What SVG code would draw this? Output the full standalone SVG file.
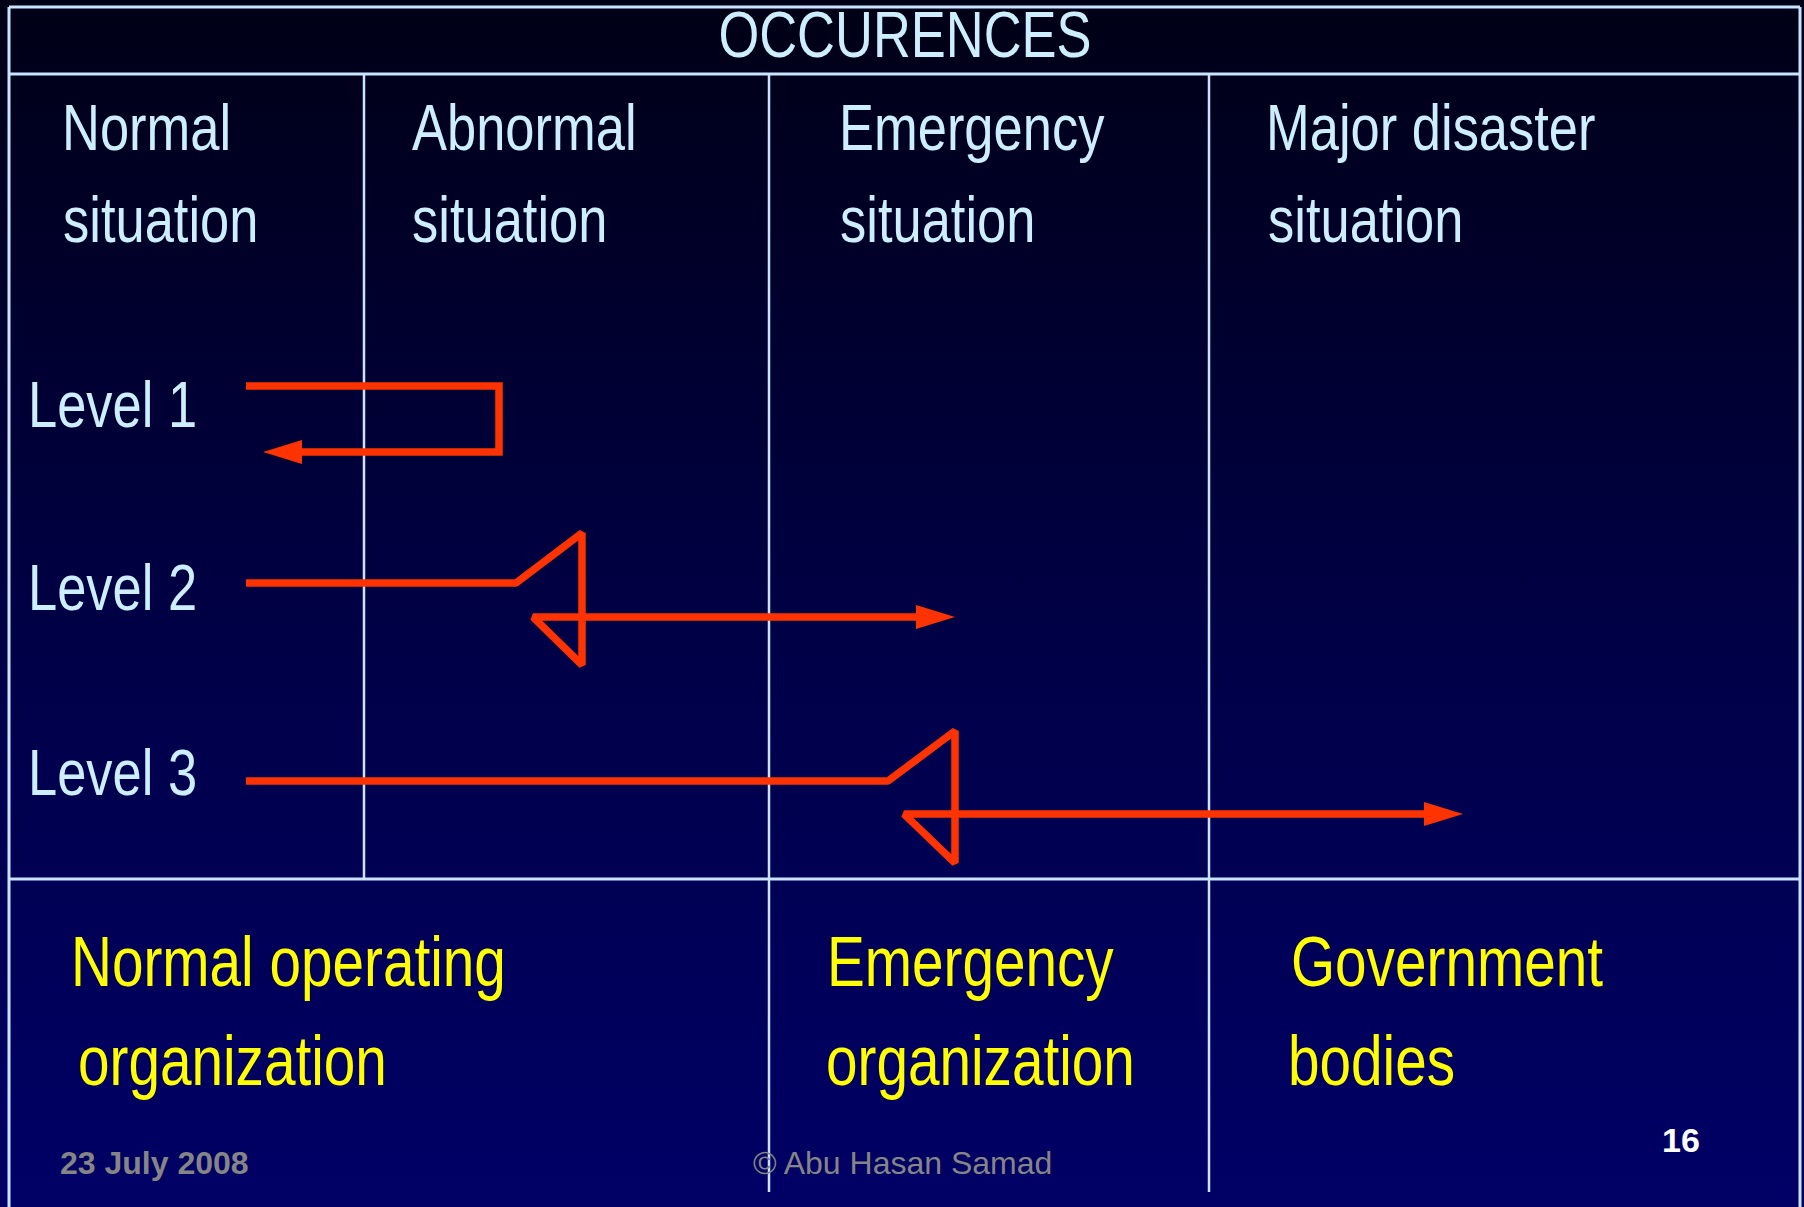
<svg xmlns="http://www.w3.org/2000/svg" width="1804" height="1207" viewBox="0 0 1804 1207">
  <defs>
    <linearGradient id="bg" x1="0" y1="0" x2="0" y2="1">
      <stop offset="0" stop-color="#000016"/>
      <stop offset="0.55" stop-color="#000048"/>
      <stop offset="1" stop-color="#000066"/>
    </linearGradient>
    <marker id="head" markerUnits="userSpaceOnUse" markerWidth="40" markerHeight="26" viewBox="0 0 40 26" refX="0" refY="13" orient="auto">
      <path d="M0,1 L39,13 L0,25 Z" fill="#ff3300"/>
    </marker>
    <style>
      .grid { stroke: #c8e4ff; fill: none; }
      .thick { stroke-width: 3; }
      .thin { stroke-width: 2.5; }
      .hdr { font-family: "Liberation Sans", Arial, sans-serif; font-size: 64px; fill: #cceeff; }
      .org { font-family: "Liberation Sans", Arial, sans-serif; font-size: 70px; fill: #ffff00; }
      .flow { stroke: #ff3300; stroke-width: 7.5; fill: none; }
      .foot { font-family: "Liberation Sans", Arial, sans-serif; font-size: 32px; fill: #858585; }
    </style>
  </defs>

  <!-- background -->
  <rect x="0" y="0" width="1804" height="1207" fill="url(#bg)"/>

  <!-- table frame -->
  <g id="grid">
    <line class="grid thick" x1="9" y1="7" x2="1800" y2="7"/>
    <line class="grid thick" x1="9" y1="74" x2="1800" y2="74"/>
    <line class="grid thick" x1="9" y1="879" x2="1800" y2="879"/>
    <line class="grid thick" x1="9" y1="7" x2="9" y2="1207"/>
    <line class="grid thick" x1="1800" y1="7" x2="1800" y2="1207"/>
    <line class="grid thin" x1="364" y1="74" x2="364" y2="879"/>
    <line class="grid thin" x1="769" y1="74" x2="769" y2="1192"/>
    <line class="grid thin" x1="1209" y1="74" x2="1209" y2="1192"/>
  </g>

  <!-- title -->
  <g id="title">
    <g transform="translate(905,57) scale(0.82,1)"><text class="hdr" text-anchor="middle">OCCURENCES</text></g>
  </g>

  <!-- situation columns -->
  <g id="col-normal">
    <g transform="translate(62,150) scale(0.82,1)"><text class="hdr">Normal</text></g>
    <g transform="translate(63,242) scale(0.82,1)"><text class="hdr">situation</text></g>
  </g>
  <g id="col-abnormal">
    <g transform="translate(412,150) scale(0.82,1)"><text class="hdr">Abnormal</text></g>
    <g transform="translate(412,242) scale(0.82,1)"><text class="hdr">situation</text></g>
  </g>
  <g id="col-emergency">
    <g transform="translate(839,150) scale(0.82,1)"><text class="hdr">Emergency</text></g>
    <g transform="translate(840,242) scale(0.82,1)"><text class="hdr">situation</text></g>
  </g>
  <g id="col-major">
    <g transform="translate(1266,150) scale(0.82,1)"><text class="hdr">Major disaster</text></g>
    <g transform="translate(1268,242) scale(0.82,1)"><text class="hdr">situation</text></g>
  </g>

  <!-- level labels -->
  <g id="level-1"><g transform="translate(28,427) scale(0.82,1)"><text class="hdr">Level 1</text></g></g>
  <g id="level-2"><g transform="translate(28,610) scale(0.82,1)"><text class="hdr">Level 2</text></g></g>
  <g id="level-3"><g transform="translate(28,795) scale(0.82,1)"><text class="hdr">Level 3</text></g></g>

  <!-- escalation paths -->
  <g id="connectors">
    <path class="flow" stroke-linejoin="miter" d="M246,386 H499 V452 H302" marker-end="url(#head)"/>
    <path class="flow" stroke-linejoin="bevel" d="M246,583 H516 L582,533 V665 L533,617 H916" marker-end="url(#head)"/>
    <path class="flow" stroke-linejoin="bevel" d="M246,781 H888 L955,731 V863 L904,814 H1424" marker-end="url(#head)"/>
  </g>

  <!-- responsible organizations -->
  <g id="org-normal">
    <g transform="translate(71,986) scale(0.81,1)"><text class="org">Normal operating</text></g>
    <g transform="translate(78,1085) scale(0.81,1)"><text class="org">organization</text></g>
  </g>
  <g id="org-emergency">
    <g transform="translate(827,986) scale(0.81,1)"><text class="org">Emergency</text></g>
    <g transform="translate(826,1085) scale(0.81,1)"><text class="org">organization</text></g>
  </g>
  <g id="org-government">
    <g transform="translate(1291,986) scale(0.81,1)"><text class="org">Government</text></g>
    <g transform="translate(1288,1085) scale(0.81,1)"><text class="org">bodies</text></g>
  </g>

  <!-- footer -->
  <g id="footer">
    <text class="foot" x="60" y="1174" font-size="33" font-weight="bold">23 July 2008</text>
    <text class="foot" x="753" y="1174">© Abu Hasan Samad</text>
    <text x="1662" y="1152" font-family="'Liberation Sans', Arial, sans-serif" font-size="34" font-weight="bold" fill="#ffffff">16</text>
  </g>
</svg>
